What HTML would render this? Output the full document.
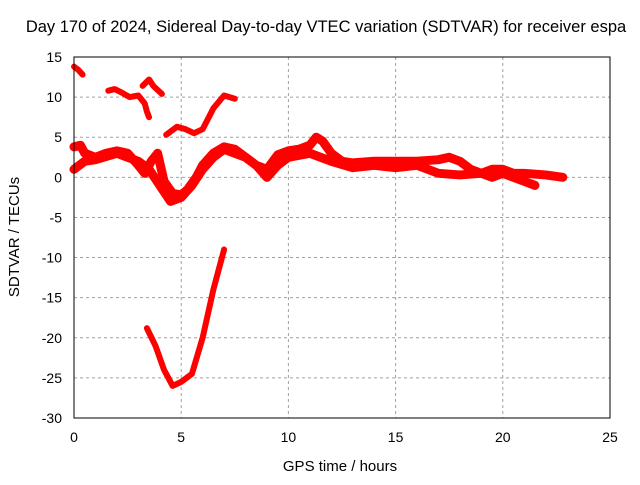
<!DOCTYPE html>
<html><head><meta charset="utf-8"><style>
body{margin:0;background:#fff}
svg text{font-family:"Liberation Sans",sans-serif;font-size:14px;fill:#000}
</style></head><body>
<svg id="chart" width="640" height="480">
<text x="326" y="32" text-anchor="middle" style="font-size:16.5px">Day 170 of 2024, Sidereal Day-to-day VTEC variation (SDTVAR) for receiver espa</text>
<text x="340" y="471" text-anchor="middle" style="font-size:15px">GPS time / hours</text>
<text transform="translate(19,237) rotate(-90)" text-anchor="middle" style="font-size:15px">SDTVAR / TECUs</text>
<g id="grid"></g><g id="ticks"></g><g id="series"></g>
<rect x="74" y="57" width="536" height="361" fill="none" stroke="#000"/>
</svg>
<script>
const xTicks=[0,5,10,15,20,25];
const yTicks=[15,10,5,0,-5,-10,-15,-20,-25,-30];
const trackA=[[0,13.8],[0.2,13.4],[0.4,12.8]];
const trackB=[[1.6,10.8],[1.9,11],[2.2,10.6],[2.6,10],[3.0,10.2],[3.3,9.2],[3.4,8.2],[3.5,7.5]];
const trackB2=[[3.2,11.4],[3.5,12.2],[3.7,11.4],[4.1,10.4]];
const trackC=[[4.3,5.3],[4.8,6.3],[5.2,6],[5.6,5.5],[6,6],[6.5,8.6],[7,10.2],[7.5,9.8]];
const trackD=[[0,3.8],[0.3,4],[0.5,3],[1,2.5],[1.5,3],[2,3.3],[2.5,3],[3,1.5],[3.3,0.5],[3.6,2],[3.9,3],[4.2,-0.5],[4.6,-2],[5,-2.2],[5.3,-1.5],[5.7,0],[6,1.5],[6.5,3],[7,3.8],[7.5,3.5],[8,2.5],[8.5,1.5],[9,1],[9.5,2.8],[10,3.3],[10.5,3.5],[11,4],[11.3,5],[11.6,4.5],[12,3],[12.5,2],[13,1.8],[14,2],[15,2],[16,2],[17,2.2],[17.5,2.5],[18,2],[18.5,1],[19,0.5],[19.5,1],[20,1],[20.5,0.5],[21,0.5],[22,0.3],[22.8,0]];
const trackE=[[0,1],[0.5,2],[1,2.2],[2,3],[3,2],[3.5,1],[4,-1],[4.5,-3],[5,-2.5],[5.5,-1],[6,1],[6.5,2.5],[7,3.5],[8,2.5],[8.5,1.5],[9,0],[9.5,1.5],[10,2.5],[11,3],[12,2],[13,1.2],[14,1.5],[15,1.2],[16,1.5],[17,0.5],[18,0.3],[19,0.5],[19.5,0],[20,0.5],[21,-0.5],[21.5,-1]];
const trackF=[[3.4,-18.8],[3.8,-21],[4.2,-24],[4.6,-26],[5,-25.5],[5.5,-24.5],[6,-20],[6.5,-14],[7,-9]];
const tracks=[trackA,trackB,trackB2,trackC,trackD,trackE,trackF];
const widths=[6,6,6,6,9,9,6];
const NS="http://www.w3.org/2000/svg";
const X=t=>74+t*536/25, Y=v=>57+(15-v)*361/45;
const grid=document.getElementById('grid'),ticks=document.getElementById('ticks'),ser=document.getElementById('series');
function mk(tag,attrs,parent){const e=document.createElementNS(NS,tag);for(const k in attrs)e.setAttribute(k,attrs[k]);parent.appendChild(e);return e;}
xTicks.forEach(t=>{
 if(t>0&&t<25){const g=mk('line',{x1:X(t),x2:X(t),y1:57,y2:418,stroke:'#a0a0a0','stroke-dasharray':'3,3'},grid);
 
 }
 const l=mk('text',{x:X(t),y:442,'text-anchor':'middle'},ticks);l.textContent=t;
 
 
});
yTicks.forEach(v=>{
 if(v<15&&v>-30){const g=mk('line',{x1:74,x2:610,y1:Y(v),y2:Y(v),stroke:'#a0a0a0','stroke-dasharray':'3,3'},grid);
 
 }
 const l=mk('text',{x:62,y:Y(v)+5,'text-anchor':'end'},ticks);l.textContent=v;
 
 
});
tracks.forEach((tr,i)=>{
 const p=mk('polyline',{points:tr.map(d=>X(d[0])+','+Y(d[1])).join(' '),fill:'none',stroke:'#f00','stroke-width':widths[i],'stroke-linejoin':'round','stroke-linecap':'round'},ser);
 
 
});
</script>
</body></html>
